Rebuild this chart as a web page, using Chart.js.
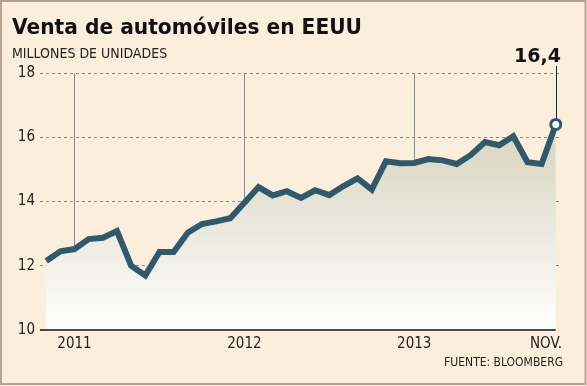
<!DOCTYPE html>
<html>
<head>
<meta charset="utf-8">
<script src="https://cdn.jsdelivr.net/npm/chart.js@4/dist/chart.umd.min.js"></script>
<style>
html,body{margin:0;padding:0;background:#FCEEDD;}
#wrap{position:relative;width:587px;height:386px;}
canvas{display:block;}
</style>
</head>
<body>
<div id="wrap"><canvas id="c" width="587" height="386"></canvas></div>
<script>
// Monthly US auto sales (SAAR, millions), Nov 2010 – Nov 2013
const months = ["nov-10","dic-10","ene-11","feb-11","mar-11","abr-11","may-11","jun-11","jul-11","ago-11","sep-11","oct-11","nov-11","dic-11",
  "ene-12","feb-12","mar-12","abr-12","may-12","jun-12","jul-12","ago-12","sep-12","oct-12","nov-12","dic-12",
  "ene-13","feb-13","mar-13","abr-13","may-13","jun-13","jul-13","ago-13","sep-13","oct-13","nov-13"];
const sales = [12.15,12.45,12.52,12.83,12.87,13.08,12.0,11.7,12.43,12.43,13.03,13.3,13.38,13.48,
  13.96,14.45,14.19,14.32,14.11,14.35,14.2,14.48,14.72,14.37,15.25,15.19,
  15.2,15.32,15.28,15.17,15.45,15.85,15.75,16.03,15.22,15.17,16.4];
const yTicks = [10,12,14,16,18];
const xTickIdx = [2,14,26,36];
const xTickLabels = ["2011","2012","2013","NOV."];
const title = "Venta de automóviles en EEUU";
const subtitle = "MILLONES DE UNIDADES";
const source = "FUENTE: BLOOMBERG";
const lastLabel = "16,4";

const points = sales.map((v,i)=>({x:i,y:v}));
const LINE = '#2F5A6C';

const deco = {
  id:'deco',
  beforeDraw(chart){
    const ctx = chart.ctx;
    ctx.save();
    ctx.fillStyle = '#FCEEDD';
    ctx.fillRect(0,0,chart.width,chart.height);
    ctx.strokeStyle = '#B8A293';
    ctx.lineWidth = 2;
    ctx.strokeRect(1,1,chart.width-2.5,chart.height-3);
    ctx.fillStyle = '#111';
    ctx.textBaseline = 'alphabetic';
    ctx.textAlign = 'left';
    ctx.font = 'bold 22px "DejaVu Sans"';
    ctx.fillText(title, 12, 34, 350);
    ctx.fillStyle = '#222';
    ctx.font = '14px "DejaVu Sans Condensed", "DejaVu Sans"';
    ctx.fillText(subtitle, 12, 58, 156);
    ctx.restore();
  },
  afterDatasetsDraw(chart){
    const ctx = chart.ctx;
    const xs = chart.scales.x, ys = chart.scales.y;
    const area = chart.chartArea;
    ctx.save();
    // bottom axis line
    ctx.strokeStyle = '#4a4a4a';
    ctx.lineWidth = 2;
    ctx.beginPath();
    ctx.moveTo(area.left, ys.getPixelForValue(10));
    ctx.lineTo(xs.getPixelForValue(sales.length-1), ys.getPixelForValue(10));
    ctx.stroke();
    // x labels
    ctx.fillStyle = '#222';
    ctx.font = '15px "DejaVu Sans Condensed", "DejaVu Sans"';
    ctx.textBaseline = 'alphabetic';
    xTickIdx.forEach((idx,k)=>{
      const px = xs.getPixelForValue(idx);
      if (k === xTickIdx.length-1) { ctx.textAlign='right'; ctx.fillText(xTickLabels[k], area.right, 348); }
      else { ctx.textAlign='center'; ctx.fillText(xTickLabels[k], px, 348); }
    });
    ctx.textAlign = 'right';
    ctx.font = '12px "DejaVu Sans Condensed", "DejaVu Sans"';
    ctx.fillText(source, area.right+1, 366);
    // callout
    const li = sales.length-1;
    const px = xs.getPixelForValue(li), py = ys.getPixelForValue(sales[li]);
    ctx.strokeStyle = '#222';
    ctx.lineWidth = 1;
    ctx.beginPath();
    ctx.moveTo(Math.round(px)+0.5, 66);
    ctx.lineTo(Math.round(px)+0.5, py-6);
    ctx.stroke();
    ctx.fillStyle = '#111';
    ctx.font = 'bold 19px "DejaVu Sans"';
    ctx.textAlign = 'right';
    ctx.fillText(lastLabel, 561, 62);
    ctx.restore();
  }
};

const ctx = document.getElementById('c').getContext('2d');
new Chart(ctx, {
  type:'line',
  data:{
    datasets:[{
      data: points,
      borderColor: LINE,
      borderWidth: 6,
      borderJoinStyle: 'miter',
      tension: 0,
      fill: 'start',
      backgroundColor: (c)=>{
        const a = c.chart.chartArea;
        if(!a) return '#e0dccb';
        const g = c.chart.ctx.createLinearGradient(0,a.top,0,a.bottom);
        g.addColorStop(0,'#D4D0B8');
        g.addColorStop(0.35,'#DEDBC9');
        g.addColorStop(1,'#FFFFFF');
        return g;
      },
      pointRadius: (c)=> c.dataIndex === sales.length-1 ? 5 : 0,
      pointHoverRadius: 0,
      pointBackgroundColor: '#FFFFFF',
      pointBorderColor: LINE,
      pointBorderWidth: 3
    }]
  },
  options:{
    responsive:false,
    animation:false,
    events:[],
    layout:{padding:{left:0,right:25,top:73,bottom:0}},
    plugins:{legend:{display:false},tooltip:{enabled:false}},
    scales:{
      x:{
        type:'linear', min:-0.44, max:36.44,
        afterBuildTicks:(s)=>{ s.ticks = xTickIdx.map(v=>({value:v})); },
        afterFit:(s)=>{ s.height = 56; },
        ticks:{display:true, callback:()=>'' , font:{size:1}},
        grid:{
          color:(c)=> (c.tick && c.tick.value === 36) ? 'rgba(0,0,0,0)' : '#8c8c8c',
          lineWidth:1, drawTicks:false
        },
        border:{display:false}
      },
      y:{
        min:10, max:18,
        afterBuildTicks:(s)=>{ s.ticks = yTicks.map(v=>({value:v})); },
        afterFit:(s)=>{ s.width = 40; },
        ticks:{color:'#222', padding:5, font:{family:'"DejaVu Sans Condensed", "DejaVu Sans"', size:15}},
        grid:{color:(c)=> c.tick && c.tick.value===10 ? 'rgba(0,0,0,0)' : '#8a8a8a', lineWidth:1, drawTicks:false},
        border:{display:false, dash:[3,3]}
      }
    }
  },
  plugins:[deco]
});
</script>
</body>
</html>
